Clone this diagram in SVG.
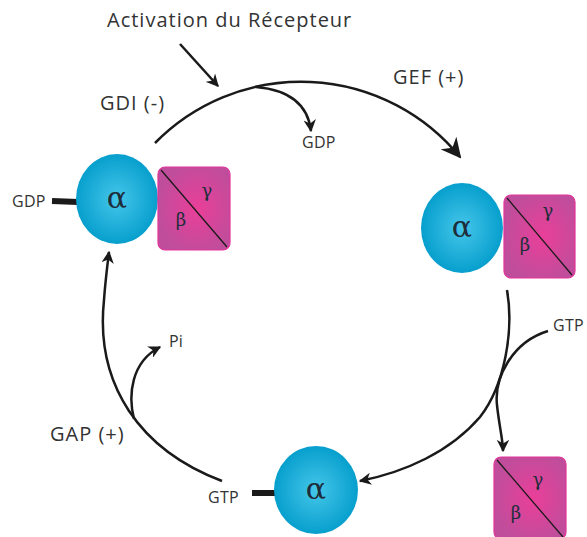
<svg xmlns="http://www.w3.org/2000/svg" width="587" height="537" viewBox="0 0 587 537">
<defs>
<radialGradient id="gA" cx="50%" cy="50%" r="50%">
<stop offset="0" stop-color="#45c6ea"/>
<stop offset="1" stop-color="#079fcd"/>
</radialGradient>
<radialGradient id="gB" cx="55%" cy="50%" r="55%">
<stop offset="0" stop-color="#ea3f99"/>
<stop offset="1" stop-color="#c04d9b"/>
</radialGradient>
<marker id="ah" viewBox="0 0 10 10" refX="9" refY="5" markerWidth="5" markerHeight="5" orient="auto" markerUnits="strokeWidth">
<path d="M0,0 L10,5 L0,10 L3,5 Z" fill="#1a1a1a"/>
</marker>
<marker id="ahBig" viewBox="0 0 10 10" refX="9" refY="5" markerWidth="8" markerHeight="8" orient="auto" markerUnits="strokeWidth">
<path d="M0,0 L10,5 L0,10 L3,5 Z" fill="#1a1a1a"/>
</marker>
<style>
.lbl{font-family:"Open Sans","Liberation Sans",sans-serif;fill:#333;}
.big{font-size:20px;letter-spacing:1px;}
.sm{font-size:16px;letter-spacing:0.3px;}
.greek{font-family:"DejaVu Serif","Liberation Serif",serif;fill:#1e2d3a;}
.alpha{font-size:30px;}
.bg{font-size:18px;}
.alp{fill:url(#gA);}
.bgr{fill:url(#gB);stroke:#e2359a;stroke-width:1.2;}
.diag{stroke:#1a1a1a;stroke-width:1.3;}
.conn{fill:none;stroke:#1a1a1a;stroke-width:2.5;}
.stub{stroke:#1a1a1a;stroke-width:6;}
</style>
</defs>
<rect width="587" height="537" fill="#fff"/>

<g id="connectors">
<path class="conn" d="M180,44 L218,86" marker-end="url(#ah)"/>
<path class="conn" d="M155,143 A 205 205 0 0 1 460,157" marker-end="url(#ahBig)"/>
<path class="conn" d="M256,87 C 290,90 308,105 311,131" marker-end="url(#ah)"/>
<path class="conn" d="M507,290 C 514,330 505,385 480,417 C 450,452 405,472 360,481" marker-end="url(#ah)"/>
<path class="conn" d="M548,331 C 512,342 494,378 497,405 C 499,425 503,440 503,451" marker-end="url(#ah)"/>
<path class="conn" d="M222,481 C 140,450 95,385 104,300 C 105,285 107,268 109,252" marker-end="url(#ah)"/>
<path class="conn" d="M134,419 C 128,395 131,362 160,347" marker-end="url(#ah)"/>
</g>

<g id="title"><text class="lbl" x="107" y="27" font-size="20" letter-spacing="1">Activation du Récepteur</text></g>
<g id="gef"><text class="lbl big" x="393" y="84">GEF (+)</text></g>
<g id="gdi"><text class="lbl big" x="100" y="110">GDI (-)</text></g>
<g id="gap"><text class="lbl big" x="50" y="441">GAP (+)</text></g>
<g id="gdp-released"><text class="lbl sm" x="302" y="148">GDP</text></g>
<g id="pi"><text class="lbl" x="169" y="347" font-size="16">Pi</text></g>
<g id="gtp-in"><text class="lbl sm" x="553" y="331">GTP</text></g>

<g id="complex-gdp">
<line class="stub" x1="52" y1="201" x2="78" y2="202"/>
<text class="lbl sm" x="12" y="207">GDP</text>
<ellipse class="alp" cx="117" cy="199" rx="41" ry="45"/>
<text class="greek alpha" x="117" y="208" text-anchor="middle">α</text>
<rect class="bgr" x="158" y="167" width="72" height="83" rx="7"/>
<line class="diag" x1="161" y1="170" x2="227" y2="247"/>
<text class="greek bg" x="207" y="197" text-anchor="middle">γ</text>
<text class="greek bg" x="181" y="226" text-anchor="middle">β</text>
</g>

<g id="complex-empty">
<ellipse class="alp" cx="462" cy="228" rx="41" ry="45"/>
<text class="greek alpha" x="462" y="237" text-anchor="middle">α</text>
<rect class="bgr" x="504" y="195" width="71" height="83" rx="7"/>
<line class="diag" x1="507" y1="198" x2="572" y2="275"/>
<text class="greek bg" x="548" y="217" text-anchor="middle">γ</text>
<text class="greek bg" x="525" y="251" text-anchor="middle">β</text>
</g>

<g id="alpha-gtp">
<line class="stub" x1="252" y1="493" x2="276" y2="493"/>
<text class="lbl sm" x="208" y="503">GTP</text>
<ellipse class="alp" cx="316" cy="490" rx="42" ry="44"/>
<text class="greek alpha" x="316" y="499" text-anchor="middle">α</text>
</g>

<g id="beta-gamma">
<rect class="bgr" x="494" y="457" width="72" height="82" rx="7"/>
<line class="diag" x1="497" y1="460" x2="563" y2="537"/>
<text class="greek bg" x="538" y="486" text-anchor="middle">γ</text>
<text class="greek bg" x="516" y="519" text-anchor="middle">β</text>
</g>
</svg>
